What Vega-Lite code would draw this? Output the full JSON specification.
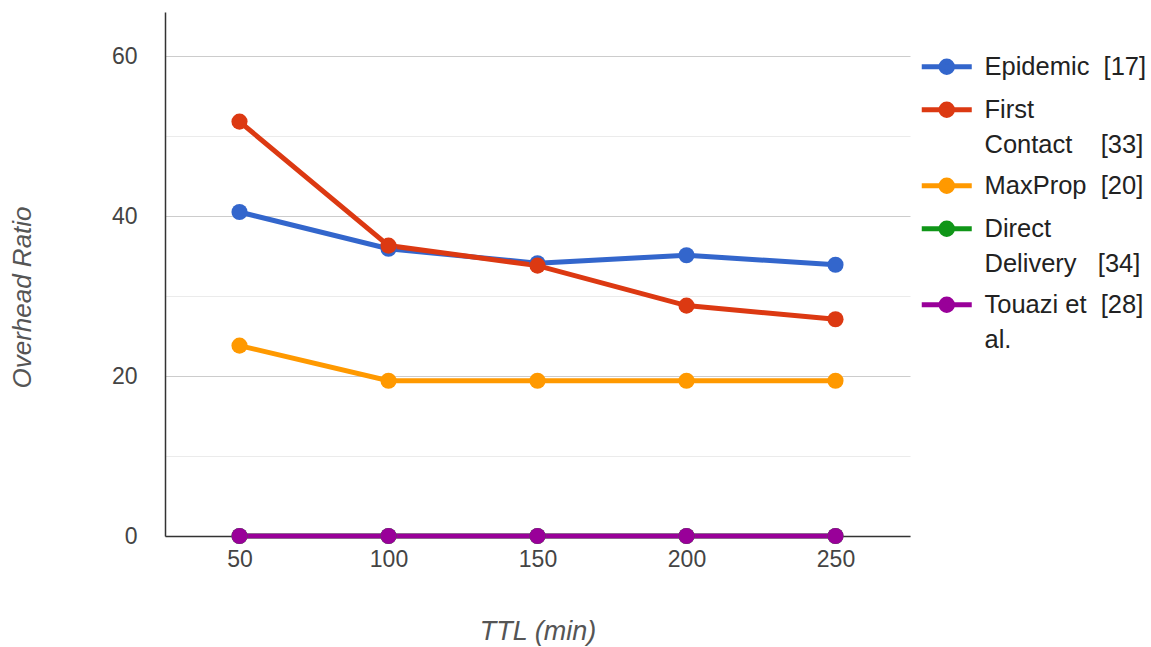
{
  "$schema": "https://vega.github.io/schema/vega-lite/v6.json",
  "autosize": {"type": "none"},
  "padding": {"left": 165, "top": 12, "right": 241, "bottom": 111},
  "width": 745,
  "height": 524,
  "background": "white",
  "data": {
    "values": [
      {"ttl": 50, "protocol": "Epidemic", "overhead": 40.5},
      {"ttl": 100, "protocol": "Epidemic", "overhead": 35.9},
      {"ttl": 150, "protocol": "Epidemic", "overhead": 34.1},
      {"ttl": 200, "protocol": "Epidemic", "overhead": 35.1},
      {"ttl": 250, "protocol": "Epidemic", "overhead": 33.9},
      {"ttl": 50, "protocol": "First Contact", "overhead": 51.8},
      {"ttl": 100, "protocol": "First Contact", "overhead": 36.3},
      {"ttl": 150, "protocol": "First Contact", "overhead": 33.8},
      {"ttl": 200, "protocol": "First Contact", "overhead": 28.8},
      {"ttl": 250, "protocol": "First Contact", "overhead": 27.1},
      {"ttl": 50, "protocol": "MaxProp", "overhead": 23.8},
      {"ttl": 100, "protocol": "MaxProp", "overhead": 19.4},
      {"ttl": 150, "protocol": "MaxProp", "overhead": 19.4},
      {"ttl": 200, "protocol": "MaxProp", "overhead": 19.4},
      {"ttl": 250, "protocol": "MaxProp", "overhead": 19.4},
      {"ttl": 50, "protocol": "Direct Delivery", "overhead": 0},
      {"ttl": 100, "protocol": "Direct Delivery", "overhead": 0},
      {"ttl": 150, "protocol": "Direct Delivery", "overhead": 0},
      {"ttl": 200, "protocol": "Direct Delivery", "overhead": 0},
      {"ttl": 250, "protocol": "Direct Delivery", "overhead": 0},
      {"ttl": 50, "protocol": "Touazi et al.", "overhead": 0},
      {"ttl": 100, "protocol": "Touazi et al.", "overhead": 0},
      {"ttl": 150, "protocol": "Touazi et al.", "overhead": 0},
      {"ttl": 200, "protocol": "Touazi et al.", "overhead": 0},
      {"ttl": 250, "protocol": "Touazi et al.", "overhead": 0}
    ]
  },
  "mark": {
    "type": "line",
    "strokeWidth": 5,
    "point": {"size": 260, "filled": true, "opacity": 1}
  },
  "encoding": {
    "x": {
      "field": "ttl",
      "type": "ordinal",
      "scale": {"type": "point", "padding": 0.5},
      "axis": {
        "title": "TTL (min)",
        "labelAngle": 0,
        "labelFontSize": 23,
        "labelColor": "#444444",
        "labelPadding": 12,
        "ticks": false,
        "domain": true,
        "domainColor": "#333333",
        "domainWidth": 1.5,
        "grid": false,
        "titleFontSize": 27,
        "titleFontStyle": "italic",
        "titleFontWeight": "normal",
        "titleColor": "#555555",
        "titlePadding": 47
      }
    },
    "y": {
      "field": "overhead",
      "type": "quantitative",
      "scale": {"domain": [0, 65.5], "nice": false, "zero": true},
      "axis": {
        "title": "Overhead Ratio",
        "values": [0, 10, 20, 30, 40, 50, 60],
        "labelExpr": "datum.value % 20 === 0 ? datum.label : ''",
        "labelFontSize": 23,
        "labelColor": "#444444",
        "labelPadding": 28,
        "ticks": false,
        "domainColor": "#333333",
        "domainWidth": 1.5,
        "gridColor": {"condition": {"test": "datum.value % 20 === 0", "value": "#cccccc"}, "value": "#ebebeb"},
        "gridWidth": 1,
        "titleFontSize": 26,
        "titleFontStyle": "italic",
        "titleFontWeight": "normal",
        "titleColor": "#555555",
        "titleX": -130,
        "titleY": 285
      }
    },
    "color": {
      "field": "protocol",
      "type": "nominal",
      "scale": {
        "domain": ["Epidemic", "First Contact", "MaxProp", "Direct Delivery", "Touazi et al."],
        "range": ["#3366cc", "#dc3912", "#ff9900", "#109618", "#990099"]
      },
      "legend": {
        "title": null,
        "orient": "none",
        "legendX": 769,
        "legendY": 30,
        "symbolType": "M-5,2.4L5,2.4M-1.14,2.4A1.14,1.14 0 1 1 1.14,2.4A1.14,1.14 0 1 1 -1.14,2.4Z",
        "symbolSize": 100,
        "symbolStrokeWidth": 5,
        "symbolOpacity": 1,
        "labelFontSize": 25.5,
        "labelColor": "#222222",
        "labelOffset": 25,
        "rowPadding": 2,
        "labelLimit": 300,
        "labelBaseline": "top",
        "labelExpr": "datum.label === 'Epidemic' ? 'Epidemic\u00a0\u00a0[17]' : datum.label === 'First Contact' ? ['First', 'Contact\u00a0\u00a0\u00a0\u00a0[33]'] : datum.label === 'MaxProp' ? 'MaxProp\u00a0\u00a0[20]' : datum.label === 'Direct Delivery' ? ['Direct', 'Delivery\u00a0\u00a0\u00a0[34]'] : ['Touazi et\u00a0\u00a0[28]', 'al.']"
      }
    }
  },
  "config": {
    "font": "Liberation Sans",
    "view": {"stroke": null},
    "style": {"guide-label": {"lineHeight": 35}}
  }
}
